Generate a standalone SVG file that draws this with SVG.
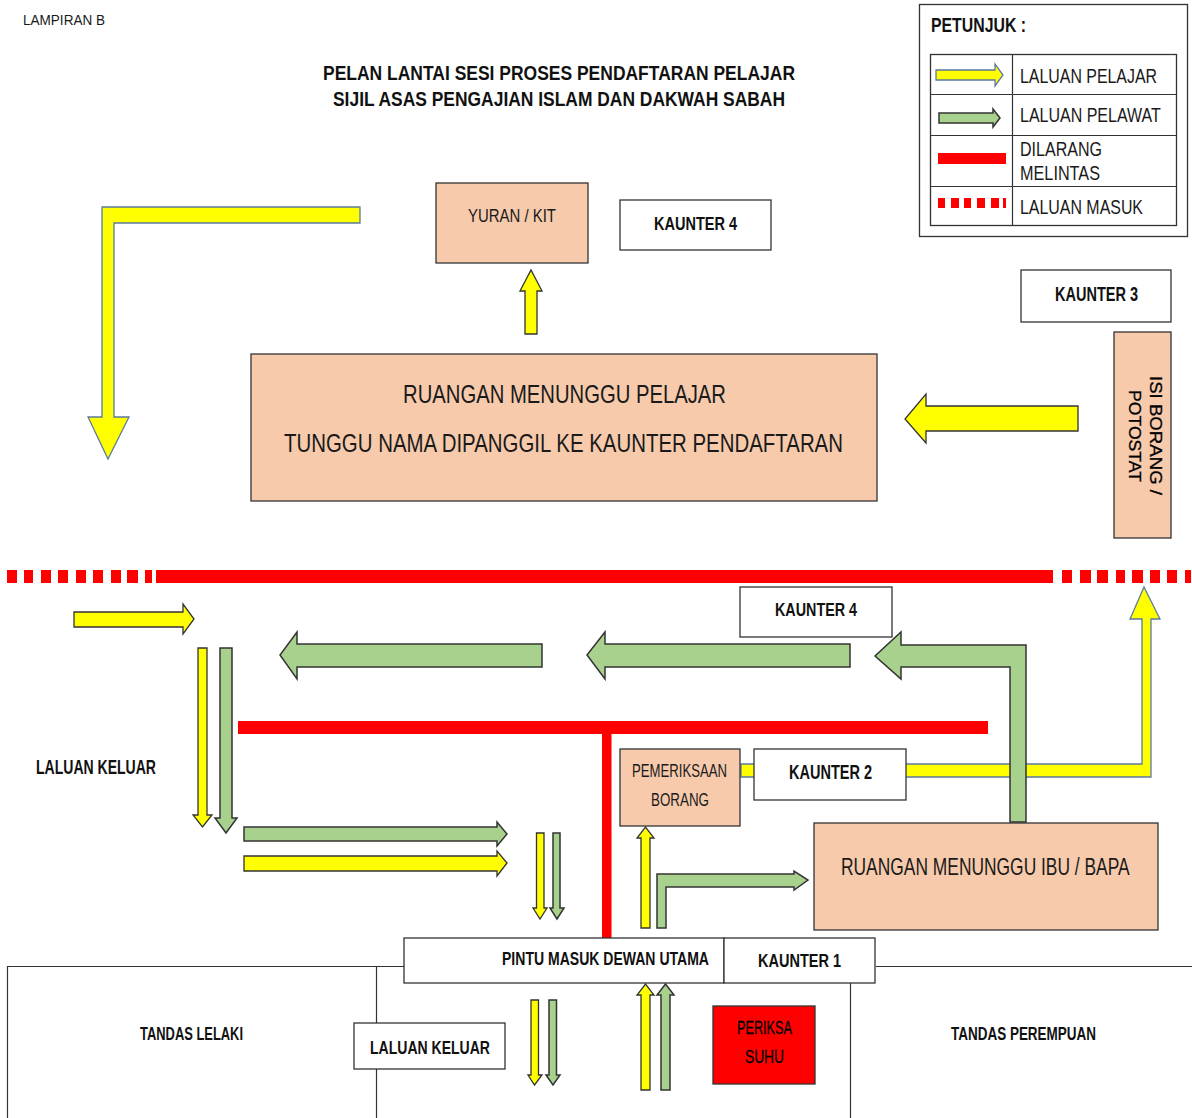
<svg xmlns="http://www.w3.org/2000/svg" width="1192" height="1118" viewBox="0 0 1192 1118">
<style>
text{font-family:"Liberation Sans",Arial,sans-serif;fill:#1a1a1a}
.b{font-weight:bold;fill:#111}
.d{fill:#000;stroke:#000;stroke-width:.3}
.box{fill:#fff;stroke:#333;stroke-width:1.3}
.room{fill:#f7caac;stroke:#333;stroke-width:1.3}
.y{fill:#ff0;stroke:#333;stroke-width:1.3;stroke-linejoin:miter}
.yb{fill:#ff0;stroke:#5b7a9e;stroke-width:1.3}
.g{fill:#a9d18e;stroke:#333;stroke-width:1.5}
.r{fill:#f00}
.l{stroke:#333;stroke-width:1.2;fill:none}
</style>
<rect width="1192" height="1118" fill="#fff"/>
<g id="heading">
<text x="23" y="25" font-size="15" textLength="82" lengthAdjust="spacingAndGlyphs">LAMPIRAN B</text>
<text class="b" x="323" y="80" font-size="20" textLength="472" lengthAdjust="spacingAndGlyphs">PELAN LANTAI SESI PROSES PENDAFTARAN PELAJAR</text>
<text class="b" x="333" y="106" font-size="20" textLength="452" lengthAdjust="spacingAndGlyphs">SIJIL ASAS PENGAJIAN ISLAM DAN DAKWAH SABAH</text>
</g>
<g id="legend">
<rect class="box" x="919.5" y="4.5" width="268" height="232"/>
<text class="b" x="931" y="32" font-size="20" textLength="95" lengthAdjust="spacingAndGlyphs">PETUNJUK :</text>
<rect class="box" x="930.5" y="54.5" width="246" height="171"/>
<path class="l" d="M930 94.5H1176M930 135.5H1176M930 186.5H1176M1012.5 54V226"/>
<polygon class="yb" points="936,70 995,70 995,64 1003,75 995,86 995,80 936,80"/>
<polygon class="g" points="939,113 993,113 993,109 1000,118 993,127 993,123 939,123"/>
<rect class="r" x="938" y="153" width="68" height="11"/>
<path class="r" d="M938 198h7v10h-7zM951 198h8v10h-8zM964 198h7v10h-7zM977 198h8v10h-8zM991 198h8v10h-8zM1003 198h3v10h-3z"/>
<text x="1020" y="83" font-size="20" textLength="137" lengthAdjust="spacingAndGlyphs">LALUAN PELAJAR</text>
<text transform="translate(1020 122) scale(.8 1)" font-size="20">LALUAN PELAWAT</text>
<text x="1020" y="156" font-size="20" textLength="82" lengthAdjust="spacingAndGlyphs">DILARANG</text>
<text x="1020" y="180" font-size="20" textLength="80" lengthAdjust="spacingAndGlyphs">MELINTAS</text>
<text x="1020" y="214" font-size="20" textLength="123" lengthAdjust="spacingAndGlyphs">LALUAN MASUK</text>
</g>
<g id="walls">
<path class="l" d="M404 966.5H7.5V1118M876 966.5H1192M376.5 966V1023M376.5 1069V1118M850.5 983V1118"/>
</g>
<g id="connectors">
<polygon class="yb" points="360,207 102,207 102,417 88,417 108,459 129,417 114,417 114,223 360,223"/>
<polygon class="y" points="525,334 525,291 520,291 531,270 542,291 537,291 537,334"/>
<polygon class="y" points="1078,406 926,406 926,394 905,419 926,443 926,431 1078,431"/>
<rect class="r" x="156" y="570" width="897" height="13"/>
<path class="r" d="M7 570h10v13h-10zM24 570h9v13h-9zM41 570h10v13h-10zM58 570h10v13h-10zM76 570h10v13h-10zM93 570h10v13h-10zM111 570h10v13h-10zM127 570h11v13h-11zM145 570h7v13h-7zM1062 570h10v13h-10zM1080 570h11v13h-11zM1097 570h11v13h-11zM1116 570h9v13h-9zM1132 570h11v13h-11zM1150 570h10v13h-10zM1167 570h10v13h-10zM1185 570h6v13h-6z"/>
<polygon class="y" points="74,612 183,612 183,604 194,619 183,634 183,627 74,627"/>
<polygon class="y" points="198,648 207,648 207,815 212,815 202.5,827 193,815 198,815"/>
<polygon class="g" points="220,648 232,648 232,818 237,818 226,833 215,818 220,818"/>
<polygon class="g" points="542,644 297,644 297,632 280,655 297,679 297,667 542,667"/>
<polygon class="g" points="850,644 605,644 605,632 587,655 605,679 605,667 850,667"/>
<rect class="r" x="238" y="721" width="750" height="13"/>
<rect class="r" x="602" y="734" width="9.500" height="204"/>
<polygon class="g" points="244,827 497,827 497,822 507,834 497,846 497,841 244,841"/>
<polygon class="y" points="244,856 497,856 497,851 507,863 497,876 497,871 244,871"/>
<polygon class="y" points="536.500,833 544,833 544,908 547,908 540,919 533,908 536.500,908"/>
<polygon class="g" points="553,833 560,833 560,908 564,908 557,919 550,908 553,908"/>
<polygon class="y" points="641,928 650,928 650,838 654,838 645.500,827 637,838 641,838"/>
<polygon class="g" points="657,928 666,928 666,887 794,887 794,890 808,880 794,871 794,874 657,874"/>
<polygon class="yb" points="741,764 1142,764 1142,619 1130,619 1144,587 1160,619 1151,619 1151,777 741,777"/>
<polygon class="g" points="1010,822 1010,667 901,667 901,679 875,656 901,632 901,645 1026,645 1026,822"/>
<polygon class="y" points="531,1000 538.500,1000 538.500,1075 542,1075 534.500,1085 528,1075 531,1075"/>
<polygon class="g" points="549,1000 556.500,1000 556.500,1075 560,1075 553,1085 546,1075 549,1075"/>
<polygon class="y" points="641,1090 650,1090 650,995 654,995 645.500,984 637,995 641,995"/>
<polygon class="g" points="661,1090 670,1090 670,995 674,995 665.500,984 657,995 661,995"/>
</g>
<g id="yuran-kit"><rect class="room" x="436" y="183" width="152" height="80"/>
<text x="468" y="222" font-size="18" textLength="88" lengthAdjust="spacingAndGlyphs">YURAN / KIT</text></g>
<g id="kaunter-4-top"><rect class="box" x="620" y="200" width="151" height="50"/>
<text class="b" x="654" y="230" font-size="19" textLength="83" lengthAdjust="spacingAndGlyphs">KAUNTER 4</text></g>
<g id="kaunter-3"><rect class="box" x="1021" y="270" width="150" height="52"/>
<text class="b" x="1055" y="301" font-size="20" textLength="83" lengthAdjust="spacingAndGlyphs">KAUNTER 3</text></g>
<g id="isi-borang"><rect class="room" x="1114" y="332" width="57" height="206"/>
<text class="d" transform="translate(1150 376) rotate(90)" font-size="17" textLength="119" lengthAdjust="spacingAndGlyphs">ISI BORANG /</text>
<text class="d" transform="translate(1129 390) rotate(90)" font-size="17" textLength="92" lengthAdjust="spacingAndGlyphs">POTOSTAT</text></g>
<g id="ruangan-pelajar"><rect class="room" x="251" y="354" width="626" height="147"/>
<text x="403" y="403" font-size="26" textLength="323" lengthAdjust="spacingAndGlyphs">RUANGAN MENUNGGU PELAJAR</text>
<text x="284" y="452" font-size="26" textLength="559" lengthAdjust="spacingAndGlyphs">TUNGGU NAMA DIPANGGIL KE KAUNTER PENDAFTARAN</text></g>
<g id="kaunter-4-bottom"><rect class="box" x="740" y="587" width="152" height="50"/>
<text class="b" x="775" y="616" font-size="19" textLength="82" lengthAdjust="spacingAndGlyphs">KAUNTER 4</text></g>
<g id="laluan-keluar-label"><text class="b" x="36" y="774" font-size="20" textLength="120" lengthAdjust="spacingAndGlyphs">LALUAN KELUAR</text></g>
<g id="pemeriksaan"><rect class="room" x="620" y="749" width="120" height="77"/>
<text x="632" y="777" font-size="18" textLength="95" lengthAdjust="spacingAndGlyphs">PEMERIKSAAN</text>
<text x="651" y="806" font-size="18" textLength="58" lengthAdjust="spacingAndGlyphs">BORANG</text></g>
<g id="kaunter-2"><rect class="box" x="754" y="749" width="152" height="51"/>
<text class="b" x="789" y="779" font-size="20" textLength="83" lengthAdjust="spacingAndGlyphs">KAUNTER 2</text></g>
<g id="ruangan-ibu-bapa"><rect class="room" x="814" y="823" width="344" height="107"/>
<text transform="translate(841 875) scale(.725 1)" font-size="24">RUANGAN MENUNGGU IBU / BAPA</text></g>
<g id="pintu-masuk"><rect class="box" x="404" y="938" width="320" height="45"/>
<text class="b" x="502" y="965" font-size="18" textLength="207" lengthAdjust="spacingAndGlyphs">PINTU MASUK DEWAN UTAMA</text></g>
<g id="kaunter-1"><rect class="box" x="724" y="938" width="151" height="45"/>
<text class="b" x="758" y="967" font-size="19" textLength="83" lengthAdjust="spacingAndGlyphs">KAUNTER 1</text></g>
<g id="tandas-lelaki"><text class="b" x="140" y="1040" font-size="18" textLength="103" lengthAdjust="spacingAndGlyphs">TANDAS LELAKI</text></g>
<g id="tandas-perempuan"><text class="b" x="951" y="1040" font-size="18" textLength="145" lengthAdjust="spacingAndGlyphs">TANDAS PEREMPUAN</text></g>
<g id="laluan-keluar-box"><rect class="box" x="354" y="1023" width="151" height="46"/>
<text class="b" x="370" y="1054" font-size="19" textLength="120" lengthAdjust="spacingAndGlyphs">LALUAN KELUAR</text></g>
<g id="periksa-suhu"><rect x="713" y="1006" width="102" height="78" fill="#f00" stroke="#333" stroke-width="1.3"/>
<text class="d" x="737" y="1034" font-size="18" textLength="55" lengthAdjust="spacingAndGlyphs">PERIKSA</text>
<text class="d" x="745" y="1063" font-size="18" textLength="39" lengthAdjust="spacingAndGlyphs">SUHU</text></g>
</svg>
